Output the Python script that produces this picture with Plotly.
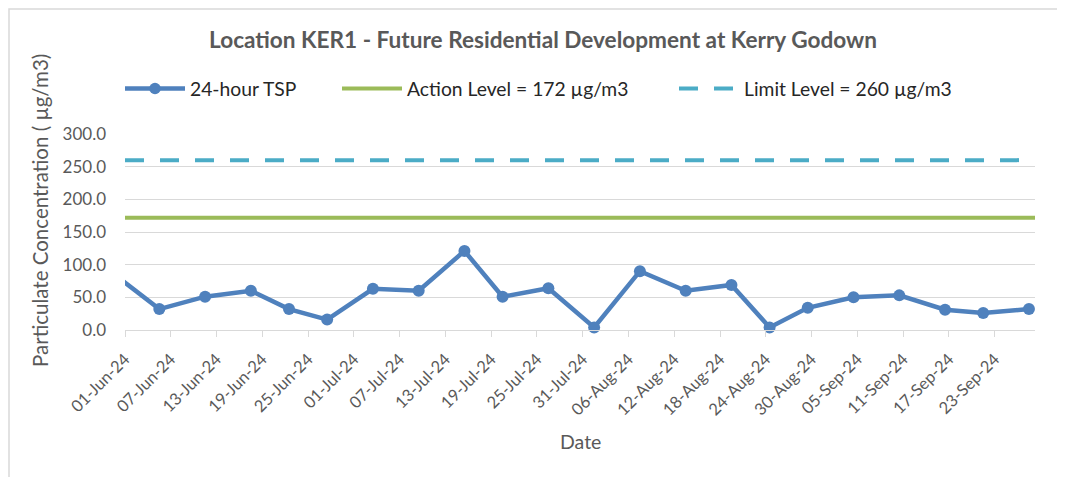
import plotly.graph_objects as go
from datetime import datetime, timedelta

# ---------------- data ----------------
dates = ["2024-05-31", "2024-06-05", "2024-06-11", "2024-06-17", "2024-06-22", "2024-06-27",
         "2024-07-03", "2024-07-09", "2024-07-15", "2024-07-20", "2024-07-26", "2024-08-01",
         "2024-08-07", "2024-08-13", "2024-08-19", "2024-08-24", "2024-08-29", "2024-09-04",
         "2024-09-10", "2024-09-16", "2024-09-21", "2024-09-27"]
tsp = [77, 32, 51, 60, 32, 16, 63, 60, 121, 51, 64, 4, 90, 60, 69, 4, 34, 50, 53, 31, 26, 32]
action_level = 172
limit_level = 260
tick_dates = ["2024-06-01", "2024-06-07", "2024-06-13", "2024-06-19", "2024-06-25", "2024-07-01",
              "2024-07-07", "2024-07-13", "2024-07-19", "2024-07-25", "2024-07-31", "2024-08-06",
              "2024-08-12", "2024-08-18", "2024-08-24", "2024-08-30", "2024-09-05", "2024-09-11",
              "2024-09-17", "2024-09-23"]
tick_labels = ["01-Jun-24", "07-Jun-24", "13-Jun-24", "19-Jun-24", "25-Jun-24", "01-Jul-24",
               "07-Jul-24", "13-Jul-24", "19-Jul-24", "25-Jul-24", "31-Jul-24", "06-Aug-24",
               "12-Aug-24", "18-Aug-24", "24-Aug-24", "30-Aug-24", "05-Sep-24", "11-Sep-24",
               "17-Sep-24", "23-Sep-24"]
x_start = "2024-06-01"
x_end = "2024-09-28 07:00"

# ---------------- styling ----------------
FONT = "Lato"
GREY = "#595959"
BLUE = "#4F81BD"
GREEN = "#9BBB59"
CYAN = "#4BACC6"
GRID = "#D9D9D9"

# points sit in the middle of their day slot (Excel "between tick marks")
x_pts = [datetime.strptime(d, "%Y-%m-%d") + timedelta(hours=12) for d in dates]
start_dt = datetime.strptime(x_start, "%Y-%m-%d")
msize = [0 if x < start_dt else 12 for x in x_pts]

fig = go.Figure()
fig.add_trace(go.Scatter(
    x=x_pts, y=tsp, mode="lines+markers", name="24-hour TSP",
    line=dict(color=BLUE, width=4.5),
    marker=dict(color=BLUE, size=msize, opacity=1, line=dict(width=0)),
    cliponaxis=False, legend="legend",
))
fig.add_trace(go.Scatter(
    x=[x_start, x_end], y=[action_level, action_level], mode="lines",
    name="Action Level = 172 µg/m3", line=dict(color=GREEN, width=4),
    legend="legend2",
))
fig.add_trace(go.Scatter(
    x=[x_start, x_end], y=[limit_level, limit_level], mode="lines",
    name="Limit Level = 260 µg/m3", line=dict(color=CYAN, width=4, dash="19px,16px"),
    legend="legend3",
))

leg_common = dict(orientation="h", xref="container", yref="container", xanchor="left",
                  yanchor="middle", y=1 - 81 / 477, itemwidth=60, bgcolor="rgba(0,0,0,0)",
                  font=dict(family=FONT, size=19.3, color="#262626"))

PL, PT, PW, PH = 117, 126, 910, 196  # plot area in figure coords (page adds 8px offset)

fig.update_layout(
    width=1065, height=477,
    margin=dict(l=PL, r=1065 - PL - PW, t=PT, b=477 - PT - PH),
    paper_bgcolor="white", plot_bgcolor="white",
    font=dict(family=FONT, color=GREY),
    showlegend=True,
    legend=dict(x=112 / 1065, **leg_common),
    legend2=dict(x=329 / 1065, **leg_common),
    legend3=dict(x=666 / 1065, **leg_common),
    xaxis=dict(
        type="date", range=[x_start, x_end],
        tickmode="array", tickvals=tick_dates, ticktext=tick_labels, tickangle=-45,
        tickfont=dict(family=FONT, size=16.5, color=GREY),
        showgrid=False, showline=True, linecolor=GRID, linewidth=1,
        ticks="outside", ticklen=6, tickcolor=GRID, zeroline=False,
        ticklabelstandoff=6,
    ),
    yaxis=dict(
        range=[0, 300], tickmode="array", tickvals=[0, 50, 100, 150, 200, 250, 300],
        tickformat=".1f", tickfont=dict(family=FONT, size=17, color=GREY),
        showgrid=True, gridcolor=GRID, gridwidth=1, zeroline=False,
        showline=False, ticks="", ticklabelstandoff=18,
    ),
    shapes=[dict(type="rect", xref="paper", yref="paper",
                 x0=-(PL - 1) / PW, x1=1.2, y0=-1.0, y1=1 + (PT - 1) / PH,
                 line=dict(color=GRID, width=1.5), fillcolor="rgba(0,0,0,0)", layer="below")],
    annotations=[
        dict(text="<b>Location KER1 - Future Residential Development at Kerry Godown</b>",
             xref="paper", yref="paper", x=(543 - 125) / PW, y=1 + (134 - 39) / PH,
             xanchor="center", yanchor="middle", showarrow=False,
             font=dict(family=FONT, size=22.6, color=GREY)),
        dict(text="Particulate Concentration ( µg/m3)", textangle=-90,
             xref="paper", yref="paper", x=(40 - 125) / PW, y=(330 - 211) / PH,
             xanchor="center", yanchor="middle", showarrow=False,
             font=dict(family=FONT, size=20.5, color=GREY)),
        dict(text="Date", xref="paper", yref="paper", x=(580 - 125) / PW, y=-(441 - 330) / PH,
             xanchor="center", yanchor="middle", showarrow=False,
             font=dict(family=FONT, size=19.5, color=GREY)),
    ],
)

fig.write_html("out.html")
